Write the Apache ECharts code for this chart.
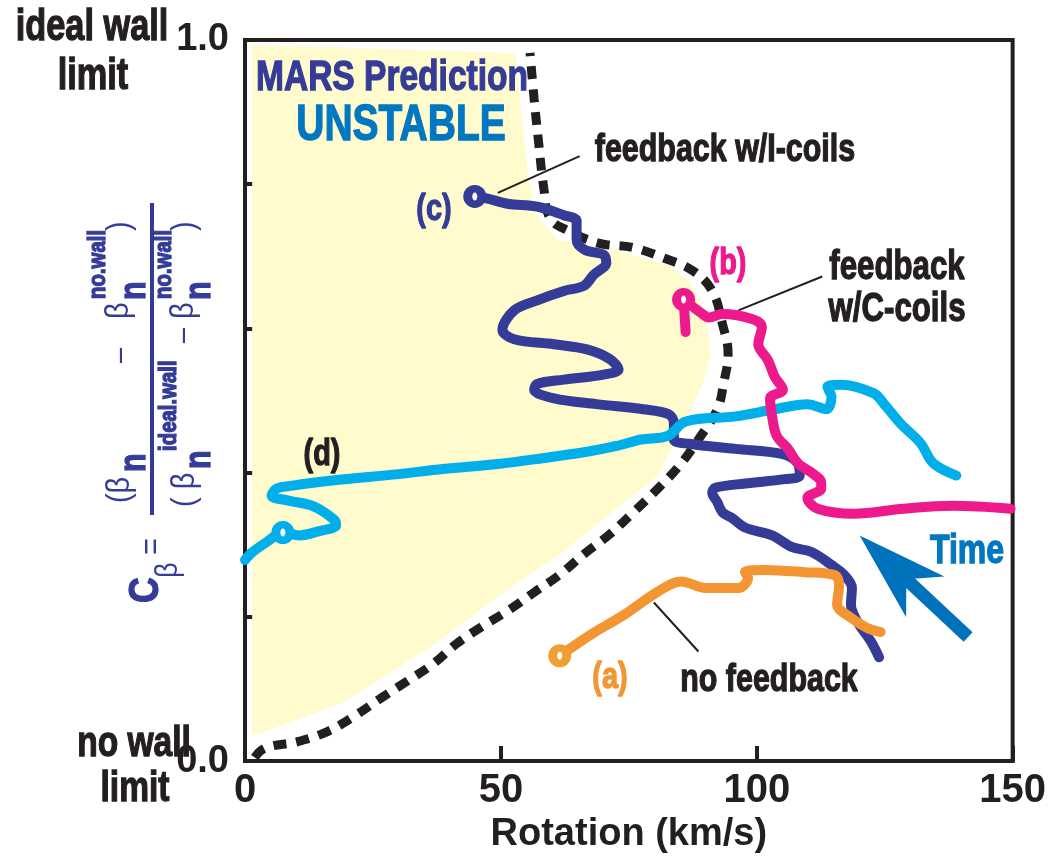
<!DOCTYPE html>
<html>
<head>
<meta charset="utf-8">
<script src="https://cdn.jsdelivr.net/npm/echarts@6/dist/echarts.min.js"></script>
<style>
  html, body { margin: 0; padding: 0; background: #ffffff; }
  #chart { width: 1049px; height: 859px; }
</style>
</head>
<body>
<div id="chart"></div>
<script>
// ---- data: rotation (km/s) vs normalised beta C_beta ----

// MARS stability boundary (dashed)
const boundaryX = [1.9, 3.9, 10.3, 16.1, 21.3, 26.5, 31.5, 36.8, 41.2, 46.4, 51.7, 56.7, 61.4, 66.4, 71.0, 75.9, 80.7, 84.8, 88.6, 92.3, 93.5, 94.4, 93.3, 91.3, 87.5, 81.7, 75.9, 69.3, 63.3, 59.6, 58.4, 57.3, 56.5, 55.7];
const boundaryY = [0.005, 0.018, 0.027, 0.041, 0.062, 0.087, 0.110, 0.135, 0.162, 0.187, 0.210, 0.235, 0.258, 0.288, 0.313, 0.345, 0.378, 0.409, 0.446, 0.488, 0.523, 0.565, 0.606, 0.652, 0.680, 0.698, 0.712, 0.718, 0.735, 0.753, 0.794, 0.863, 0.918, 0.982];

// unstable region (shaded)
const regionX = [1.4, 52.8, 55.2, 56.5, 61.0, 73.2, 82.8, 86.7, 90.0, 91.0, 89.4, 85.5, 82.3, 80.7, 71.0, 61.4, 51.7, 36.2, 18.8, 3.9, 1.4];
const regionY = [0.993, 0.982, 0.821, 0.762, 0.723, 0.707, 0.687, 0.666, 0.620, 0.565, 0.523, 0.464, 0.419, 0.396, 0.341, 0.286, 0.240, 0.158, 0.080, 0.041, 0.036];

// (a) no feedback
const aX = [61.5, 67.7, 74.1, 80.7, 85.2, 90.0, 96.4, 98.3, 97.7, 101.6, 109.3, 115.2, 116.1, 115.7, 118.4, 121.5, 124.2];
const aY = [0.146, 0.176, 0.203, 0.235, 0.249, 0.240, 0.240, 0.254, 0.262, 0.265, 0.262, 0.258, 0.245, 0.217, 0.199, 0.185, 0.179];

// (b) feedback with C-coils
const bX = [86.1, 85.7, 89.4, 90.6, 93.3, 99.1, 101.0, 100.3, 102.2, 103.5, 105.1, 102.6, 103.0, 103.9, 106.1, 108.0, 110.7, 112.6, 112.6, 109.9, 111.9, 119.0, 128.7, 138.4, 149.6];
const bY = [0.595, 0.640, 0.620, 0.615, 0.620, 0.613, 0.602, 0.578, 0.556, 0.533, 0.515, 0.503, 0.478, 0.451, 0.433, 0.413, 0.400, 0.386, 0.378, 0.365, 0.350, 0.343, 0.350, 0.354, 0.350];

// (c) feedback with I-coils
const cX = [44.9, 47.4, 51.3, 57.1, 62.3, 64.8, 64.8, 66.4, 70.1, 70.6, 68.1, 66.2, 62.3, 57.1, 52.6, 50.3, 52.6, 60.4, 66.8, 71.2, 73.0, 70.1, 62.3, 57.1, 56.5, 60.4, 68.7, 77.8, 82.8, 83.8, 83.8, 86.7, 95.8, 104.9, 108.0, 108.4, 105.5, 97.7, 91.9, 91.3, 92.3, 93.3, 95.2, 97.7, 103.0, 106.8, 110.7, 114.6, 117.1, 118.6, 118.4, 119.6, 122.3, 123.9];
const cY = [0.783, 0.780, 0.773, 0.769, 0.757, 0.749, 0.723, 0.709, 0.702, 0.691, 0.674, 0.659, 0.652, 0.639, 0.625, 0.598, 0.585, 0.578, 0.571, 0.558, 0.543, 0.536, 0.529, 0.523, 0.515, 0.503, 0.495, 0.488, 0.481, 0.468, 0.446, 0.440, 0.433, 0.426, 0.413, 0.396, 0.391, 0.385, 0.379, 0.372, 0.359, 0.345, 0.337, 0.324, 0.313, 0.297, 0.290, 0.272, 0.258, 0.240, 0.217, 0.194, 0.166, 0.144];

// (d)
const dX = [0.0, 1.5, 4.3, 7.4, 10.6, 14.5, 17.8, 17.4, 13.2, 8.7, 5.2, 6.2, 9.3, 17.0, 30.0, 38.7, 49.4, 58.1, 66.8, 72.6, 77.4, 82.6, 86.1, 95.8, 103.5, 109.9, 113.6, 114.6, 113.8, 116.5, 122.9, 124.8, 128.1, 132.0, 134.5, 139.0];
const dY = [0.279, 0.290, 0.304, 0.317, 0.313, 0.319, 0.327, 0.335, 0.354, 0.361, 0.368, 0.378, 0.382, 0.389, 0.398, 0.405, 0.412, 0.420, 0.429, 0.437, 0.446, 0.451, 0.471, 0.478, 0.488, 0.495, 0.488, 0.505, 0.519, 0.522, 0.510, 0.496, 0.468, 0.441, 0.413, 0.396];

// index of the ringed point on each trace
const ringIndex = { a: 0, b: 1, c: 0, d: 3 };

// leader lines from labels to traces
const leaderIX = [49.4, 65.4], leaderIY = [0.788, 0.839];
const leaderCX = [96.4, 112.8], leaderCY = [0.625, 0.672];
const leaderNX = [79.9, 88.6], leaderNY = [0.220, 0.152];

// "Time" arrow, tail -> tip
const timeArrowX = [141.3, 120.1], timeArrowY = [0.172, 0.313];

// axes
const xTicks = [0, 50, 100, 150];
const yLabelled = { 0: '0.0', 1: '1.0' };

// ---- styling ----
const INK = '#231F20';
const NAVY = '#343C97';
const PINK = '#EC1A8C';
const CYAN = '#00AEEA';
const ORANGE = '#F29532';
const SHADE = '#FFFBCC';
const TIMEBLUE = '#0072BB';
const FONT = "'Liberation Sans', Arial, Helvetica, sans-serif";
const SQUEEZE = 0.78;   // condensed look for the figure lettering

const zip = (xs, ys) => xs.map((x, i) => [x, ys[i]]);

function txt(s, x, y, size, color, extra, squeeze) {
  const c = color || INK;
  const st = Object.assign({
    text: s, fill: c, fontSize: size, fontWeight: 'bold',
    fontFamily: FONT, align: 'center', verticalAlign: 'middle'
  }, extra || {});
  if (st.fontWeight === 'bold') { st.stroke = c; st.lineWidth = 1.3; }
  return { type: 'text', x: x, y: y, silent: true, z: 100, scaleX: squeeze || SQUEEZE, style: st };
}

function trace(name, xs, ys, color, z) {
  return {
    name: name, type: 'line', data: zip(xs, ys), showSymbol: false, smooth: 0.35,
    lineStyle: { color: color, width: 10, cap: 'round', join: 'round' }, z: z, silent: true
  };
}

function leader(xs, ys) {
  return {
    type: 'line', data: zip(xs, ys), showSymbol: false,
    lineStyle: { color: INK, width: 2 }, z: 4, silent: true
  };
}

const chart = echarts.init(document.getElementById('chart'), null, { renderer: 'canvas' });

const ringColors = ['#F0A033', PINK, NAVY, CYAN];
const ringPoints = [
  [aX[ringIndex.a], aY[ringIndex.a]],
  [bX[ringIndex.b], bY[ringIndex.b]],
  [cX[ringIndex.c], cY[ringIndex.c]],
  [dX[ringIndex.d], dY[ringIndex.d]]
];

// fraction label for the y axis, drawn rotated (reads bottom to top)
const reg = { align: 'left', fontWeight: 'normal' };
const bld = { align: 'left' };
const F = 0.85;
const yLabelParts = [
  txt('C', 12, -4, 42, NAVY, bld, F),
  txt('β', 37, 18, 32, NAVY, reg, F),
  txt('=', 60, 3, 34, NAVY, reg, F),
  { type: 'rect', shape: { x: 100, y: 0, width: 312, height: 4 }, style: { fill: NAVY }, silent: true },
  // numerator
  txt('(β', 112, -30, 34, NAVY, reg, F),
  txt('n', 143, -15, 36, NAVY, bld, F),
  txt('–', 252, -30, 32, NAVY, reg, F),
  txt('β', 296, -31, 34, NAVY, reg, F),
  txt('n', 315, -15, 36, NAVY, bld, F),
  txt('no.wall', 316, -52, 24, NAVY, bld, F),
  txt(')', 384, -30, 34, NAVY, reg, F),
  // denominator
  txt('( β', 108, 35, 34, NAVY, reg, F),
  txt('n', 146, 50, 36, NAVY, bld, F),
  txt('ideal.wall', 164, 19, 24, NAVY, bld, F),
  txt('–', 272, 33, 32, NAVY, reg, F),
  txt('β', 296, 34, 34, NAVY, reg, F),
  txt('n', 315, 50, 36, NAVY, bld, F),
  txt('no.wall', 316, 14, 24, NAVY, bld, F),
  txt(')', 384, 35, 34, NAVY, reg, F)
];

const option = {
  backgroundColor: '#ffffff',
  animation: false,
  grid: {
    left: 245, right: 30, top: 40, bottom: 91,
    show: true, borderColor: INK, borderWidth: 4, backgroundColor: 'transparent'
  },
  xAxis: {
    type: 'value', min: 0, max: 150, interval: 50,
    name: 'Rotation (km/s)', nameLocation: 'middle', nameGap: 46,
    nameTextStyle: { color: INK, fontSize: 38, fontWeight: 'bold', fontFamily: FONT },
    axisLine: { show: true, lineStyle: { color: INK, width: 4 } },
    axisTick: { show: true, inside: true, length: 15, lineStyle: { color: INK, width: 4 } },
    axisLabel: {
      color: INK, fontSize: 40, fontWeight: 'bold', fontFamily: FONT, margin: 10,
      formatter: v => (xTicks.indexOf(v) >= 0 ? String(v) : '')
    },
    splitLine: { show: false }
  },
  yAxis: {
    type: 'value', min: 0, max: 1, interval: 0.2,
    axisLine: { show: true, lineStyle: { color: INK, width: 4 } },
    axisTick: { show: true, inside: true, length: 17, lineStyle: { color: INK, width: 4 } },
    axisLabel: {
      color: INK, fontSize: 38, fontWeight: 'bold', fontFamily: FONT, margin: 16,
      formatter: v => (yLabelled[v] !== undefined ? yLabelled[v] : '')
    },
    splitLine: { show: false }
  },
  graphic: [
    txt('ideal wall', 92, 28, 44),
    txt('limit', 93, 77, 44),
    txt('no wall', 134, 744, 43),
    txt('limit', 135, 789, 43),
    txt('MARS Prediction', 392, 78, 43, NAVY),
    txt('UNSTABLE', 401, 126, 50, '#0077C0'),
    txt('feedback w/I-coils', 725, 150, 39),
    txt('feedback', 897, 268, 40),
    txt('w/C-coils', 897, 310, 40),
    txt('no feedback', 769, 680, 39),
    txt('Time', 967, 552, 41, '#0077C0'),
    txt('(c)', 434, 210, 37, NAVY),
    txt('(b)', 728, 264, 37, PINK),
    txt('(d)', 322, 455, 37, INK),
    txt('(a)', 610, 678, 37, ORANGE),
    { type: 'group', x: 150, y: 615, rotation: Math.PI / 2, children: yLabelParts }
  ],
  series: [
    {
      name: 'unstable region', type: 'custom', silent: true, z: 1, clip: false,
      data: [[regionX[0], regionY[0]]],
      renderItem: (params, api) => ({
        type: 'polygon',
        shape: { points: regionX.map((x, i) => api.coord([x, regionY[i]])) },
        style: { fill: SHADE }
      })
    },
    {
      name: 'MARS boundary', type: 'line', data: zip(boundaryX, boundaryY), showSymbol: false,
      smooth: 0.4, silent: true, z: 3,
      lineStyle: { color: INK, width: 9, type: [13, 10], cap: 'butt' }
    },
    leader(leaderIX, leaderIY),
    leader(leaderCX, leaderCY),
    leader(leaderNX, leaderNY),
    trace('(c) feedback w/I-coils', cX, cY, NAVY, 5),
    trace('(d)', dX, dY, CYAN, 6),
    trace('(b) feedback w/C-coils', bX, bY, PINK, 7),
    trace('(a) no feedback', aX, aY, ORANGE, 8),
    {
      name: 'rings', type: 'custom', silent: true, z: 9, clip: false,
      data: ringPoints,
      renderItem: (params, api) => {
        const p = api.coord([api.value(0), api.value(1)]);
        return {
          type: 'group',
          children: [
            { type: 'circle', shape: { cx: p[0], cy: p[1], r: 11.5 },
              style: { fill: ringColors[params.dataIndex] } },
            { type: 'ellipse', shape: { cx: p[0], cy: p[1], rx: 2.5, ry: 4 },
              style: { fill: '#ffffff' } }
          ]
        };
      }
    },
    {
      name: 'time arrow', type: 'custom', silent: true, z: 10, clip: false,
      data: [[timeArrowX[0], timeArrowY[0]]],
      renderItem: (params, api) => {
        const p0 = api.coord([timeArrowX[0], timeArrowY[0]]);
        const p1 = api.coord([timeArrowX[1], timeArrowY[1]]);
        const dx = p1[0] - p0[0], dy = p1[1] - p0[1];
        const len = Math.sqrt(dx * dx + dy * dy);
        const ux = dx / len, uy = dy / len, nx = -uy, ny = ux;
        const headLen = 90, halfW = 28, notch = 64;
        const back = d => [p1[0] - ux * d, p1[1] - uy * d];
        const hb = back(headLen), nb = back(notch);
        return {
          type: 'group',
          children: [
            { type: 'line', shape: { x1: p0[0], y1: p0[1], x2: nb[0], y2: nb[1] },
              style: { stroke: TIMEBLUE, lineWidth: 13 } },
            { type: 'polygon', shape: { points: [
                p1,
                [hb[0] + nx * halfW, hb[1] + ny * halfW],
                nb,
                [hb[0] - nx * halfW, hb[1] - ny * halfW]
              ] }, style: { fill: TIMEBLUE } }
          ]
        };
      }
    }
  ]
};

chart.setOption(option);
</script>
</body>
</html>
